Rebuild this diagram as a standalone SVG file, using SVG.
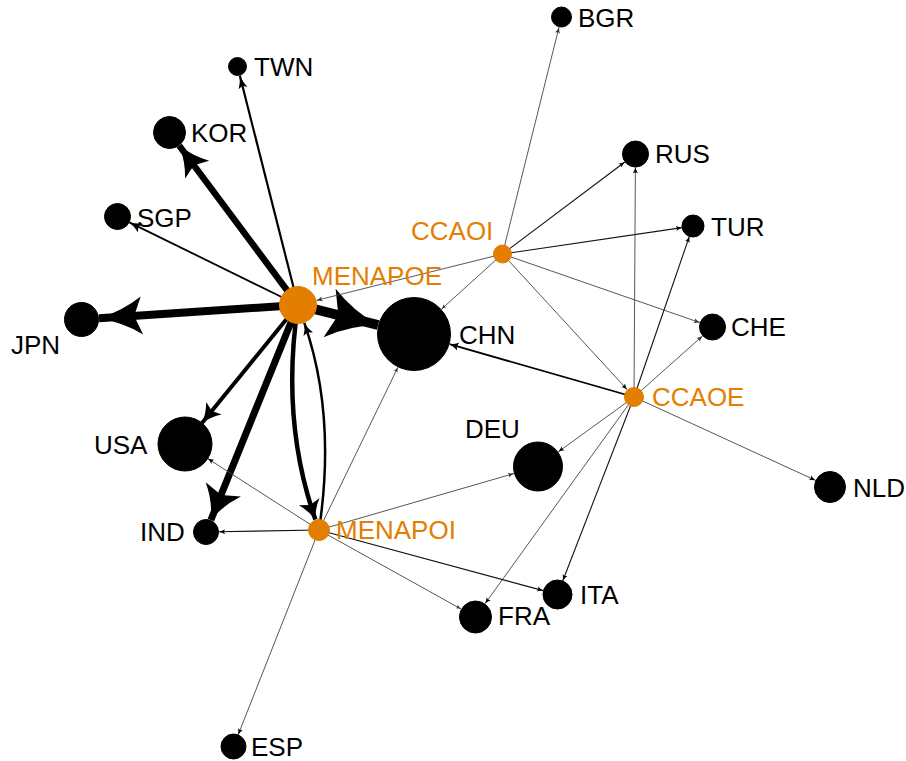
<svg xmlns="http://www.w3.org/2000/svg" width="906" height="761" viewBox="0 0 906 761">
<style>
.bg{fill:#fff}
.e{fill:none;stroke:#000;stroke-linecap:butt}
.t1{stroke:#444;stroke-width:0.9}
.t2{stroke:#111;stroke-width:1.1}
.ah{fill:#000}
.ah1{fill:#333}
.nb{fill:#000;stroke:#000;stroke-width:1}
.no{fill:#E37E00;stroke:#E37E00;stroke-width:1}
.lb{font-family:"Liberation Sans",Arial,sans-serif;font-size:26px;fill:#000}
.lo{font-family:"Liberation Sans",Arial,sans-serif;font-size:26px;fill:#E37E00}
</style>
<defs>
<path id="ah" d="M0,0 Q-0.55,-0.3 -1,-1 L-0.82,0 L-1,1 Q-0.55,0.3 0,0Z"/>
</defs>
<rect class="bg" width="906" height="761"/>
<g id="edges">
<line class="e" stroke-width="2.2" x1="298" y1="305" x2="239.8" y2="75.5"/>
<use class="ah" href="#ah" transform="translate(239.8,75.5) rotate(-104.2) scale(13,4.5)"/>
<line class="e" stroke-width="6.5" x1="298" y1="305" x2="179.2" y2="145.6"/>
<use class="ah" href="#ah" transform="translate(179.2,145.6) rotate(-126.7) scale(30,15)"/>
<line class="e" stroke-width="1.8" x1="298" y1="305" x2="129.4" y2="222.4"/>
<use class="ah" href="#ah" transform="translate(129.4,222.4) rotate(-153.9) scale(12,5)"/>
<line class="e" stroke-width="8" x1="298" y1="305" x2="99" y2="318.3"/>
<use class="ah" href="#ah" transform="translate(99,318.3) rotate(176.2) scale(43,19)"/>
<line class="e" stroke-width="10" x1="298" y1="305" x2="378.1" y2="325"/>
<use class="ah" href="#ah" transform="translate(378.1,325) rotate(14) scale(50,25)"/>
<line class="e" stroke-width="4" x1="298" y1="305" x2="202" y2="423"/>
<use class="ah" href="#ah" transform="translate(202,423) rotate(129.1) scale(19,10)"/>
<line class="e" stroke-width="7" x1="298" y1="305" x2="210.9" y2="520"/>
<use class="ah" href="#ah" transform="translate(210.9,520) rotate(112.1) scale(33,19)"/>
<path class="e" stroke-width="4.5" d="M298,305 Q280.6,420.1 315.4,519.6"/>
<use class="ah" href="#ah" transform="translate(315.4,519.6) rotate(70.7) scale(19,11)"/>
<path class="e" stroke-width="2.5" d="M319,530 Q336.4,414.9 304.3,322.9"/>
<use class="ah" href="#ah" transform="translate(304.3,322.9) rotate(-109.2) scale(12,5)"/>
<line class="e t1" x1="502.5" y1="254" x2="316.4" y2="300.4"/>
<use class="ah1" href="#ah" transform="translate(316.4,300.4) rotate(166) scale(6,2.5)"/>
<line class="e t1" x1="502.5" y1="254" x2="559" y2="27.2"/>
<use class="ah1" href="#ah" transform="translate(559,27.2) rotate(-76) scale(6,2.5)"/>
<line class="e t2" x1="502.5" y1="254" x2="624.9" y2="162"/>
<use class="ah" href="#ah" transform="translate(624.9,162) rotate(-36.9) scale(6,2.5)"/>
<line class="e t2" x1="502.5" y1="254" x2="682.1" y2="227.6"/>
<use class="ah" href="#ah" transform="translate(682.1,227.6) rotate(-8.4) scale(6,2.5)"/>
<line class="e t1" x1="502.5" y1="254" x2="699.9" y2="322.6"/>
<use class="ah1" href="#ah" transform="translate(699.9,322.6) rotate(19.2) scale(6,2.5)"/>
<line class="e t1" x1="502.5" y1="254" x2="627.2" y2="389.6"/>
<use class="ah" href="#ah" transform="translate(627.2,389.6) rotate(47.4) scale(6,2.5)"/>
<line class="e t1" x1="502.5" y1="254" x2="441.4" y2="309.2"/>
<use class="ah1" href="#ah" transform="translate(441.4,309.2) rotate(137.9) scale(5,2)"/>
<line class="e" stroke-width="1.8" x1="634" y1="397" x2="449.6" y2="344.2"/>
<use class="ah" href="#ah" transform="translate(449.6,344.2) rotate(-164) scale(9,4)"/>
<line class="e t1" x1="634" y1="397" x2="635.4" y2="167.3"/>
<use class="ah" href="#ah" transform="translate(635.4,167.3) rotate(-89.6) scale(6,2.5)"/>
<line class="e t2" x1="634" y1="397" x2="689.4" y2="236.4"/>
<use class="ah" href="#ah" transform="translate(689.4,236.4) rotate(-71) scale(6,2.5)"/>
<line class="e t1" x1="634" y1="397" x2="702.6" y2="335.9"/>
<use class="ah1" href="#ah" transform="translate(702.6,335.9) rotate(-41.7) scale(6,2.5)"/>
<line class="e t1" x1="634" y1="397" x2="815.5" y2="480.3"/>
<use class="ah" href="#ah" transform="translate(815.5,480.3) rotate(24.7) scale(6,2.5)"/>
<line class="e t1" x1="634" y1="397" x2="558.3" y2="451.8"/>
<use class="ah" href="#ah" transform="translate(558.3,451.8) rotate(144.1) scale(6,2.5)"/>
<line class="e t2" x1="634" y1="397" x2="562.8" y2="580.7"/>
<use class="ah" href="#ah" transform="translate(562.8,580.7) rotate(111.2) scale(6,2.5)"/>
<line class="e t1" x1="634" y1="397" x2="485.1" y2="603.6"/>
<use class="ah" href="#ah" transform="translate(485.1,603.6) rotate(125.8) scale(6,2.5)"/>
<line class="e t2" x1="319" y1="530" x2="219" y2="531.8"/>
<use class="ah" href="#ah" transform="translate(219,531.8) rotate(179) scale(6,2.5)"/>
<line class="e t1" x1="319" y1="530" x2="207.7" y2="458.6"/>
<use class="ah" href="#ah" transform="translate(207.7,458.6) rotate(-147.3) scale(6,2.5)"/>
<line class="e t1" x1="319" y1="530" x2="397.9" y2="367.3"/>
<use class="ah1" href="#ah" transform="translate(397.9,367.3) rotate(-64.1) scale(5,2)"/>
<line class="e t1" x1="319" y1="530" x2="514" y2="473.5"/>
<use class="ah1" href="#ah" transform="translate(514,473.5) rotate(-16.2) scale(6,2.5)"/>
<line class="e t2" x1="319" y1="530" x2="543.2" y2="590.6"/>
<use class="ah" href="#ah" transform="translate(543.2,590.6) rotate(15.1) scale(6,2.5)"/>
<line class="e t1" x1="319" y1="530" x2="461.1" y2="609"/>
<use class="ah1" href="#ah" transform="translate(461.1,609) rotate(29.1) scale(5,2)"/>
<line class="e t1" x1="319" y1="530" x2="238.2" y2="734.7"/>
<use class="ah" href="#ah" transform="translate(238.2,734.7) rotate(111.5) scale(6,2.5)"/>
</g>
<g id="MENAPOE"><circle class="no" cx="298" cy="305" r="18.5"/><text class="lo" x="312" y="285">MENAPOE</text></g>
<g id="MENAPOI"><circle class="no" cx="319" cy="530" r="10.5"/><text class="lo" x="336" y="539">MENAPOI</text></g>
<g id="CCAOI"><circle class="no" cx="502.5" cy="254" r="9"/><text class="lo" x="411" y="240">CCAOI</text></g>
<g id="CCAOE"><circle class="no" cx="634" cy="397" r="9.5"/><text class="lo" x="652" y="406">CCAOE</text></g>
<g id="CHN"><circle class="nb" cx="414" cy="334" r="36.5"/><text class="lb" x="459" y="344">CHN</text></g>
<g id="TWN"><circle class="nb" cx="237.5" cy="66.5" r="9"/><text class="lb" x="254" y="76">TWN</text></g>
<g id="KOR"><circle class="nb" cx="169.5" cy="132.5" r="16"/><text class="lb" x="191" y="142">KOR</text></g>
<g id="SGP"><circle class="nb" cx="117.5" cy="216.5" r="13"/><text class="lb" x="137" y="227">SGP</text></g>
<g id="JPN"><circle class="nb" cx="81.5" cy="319.5" r="17"/><text class="lb" x="11" y="354">JPN</text></g>
<g id="USA"><circle class="nb" cx="185" cy="444" r="27"/><text class="lb" x="94" y="454">USA</text></g>
<g id="IND"><circle class="nb" cx="206" cy="532" r="12.5"/><text class="lb" x="140" y="541">IND</text></g>
<g id="DEU"><circle class="nb" cx="538" cy="466.5" r="24.5"/><text class="lb" x="465" y="438">DEU</text></g>
<g id="NLD"><circle class="nb" cx="830" cy="487" r="15.5"/><text class="lb" x="853" y="497">NLD</text></g>
<g id="ITA"><circle class="nb" cx="557.5" cy="594.5" r="14.5"/><text class="lb" x="580" y="604">ITA</text></g>
<g id="FRA"><circle class="nb" cx="475.5" cy="617" r="16"/><text class="lb" x="498" y="625">FRA</text></g>
<g id="CHE"><circle class="nb" cx="712.5" cy="327" r="13"/><text class="lb" x="731" y="336">CHE</text></g>
<g id="BGR"><circle class="nb" cx="561.5" cy="17" r="10"/><text class="lb" x="578" y="27">BGR</text></g>
<g id="RUS"><circle class="nb" cx="635.5" cy="154" r="13"/><text class="lb" x="655" y="163">RUS</text></g>
<g id="TUR"><circle class="nb" cx="693" cy="226" r="11"/><text class="lb" x="711" y="236">TUR</text></g>
<g id="ESP"><circle class="nb" cx="233.5" cy="746.5" r="12.5"/><text class="lb" x="251" y="756">ESP</text></g>
</svg>
